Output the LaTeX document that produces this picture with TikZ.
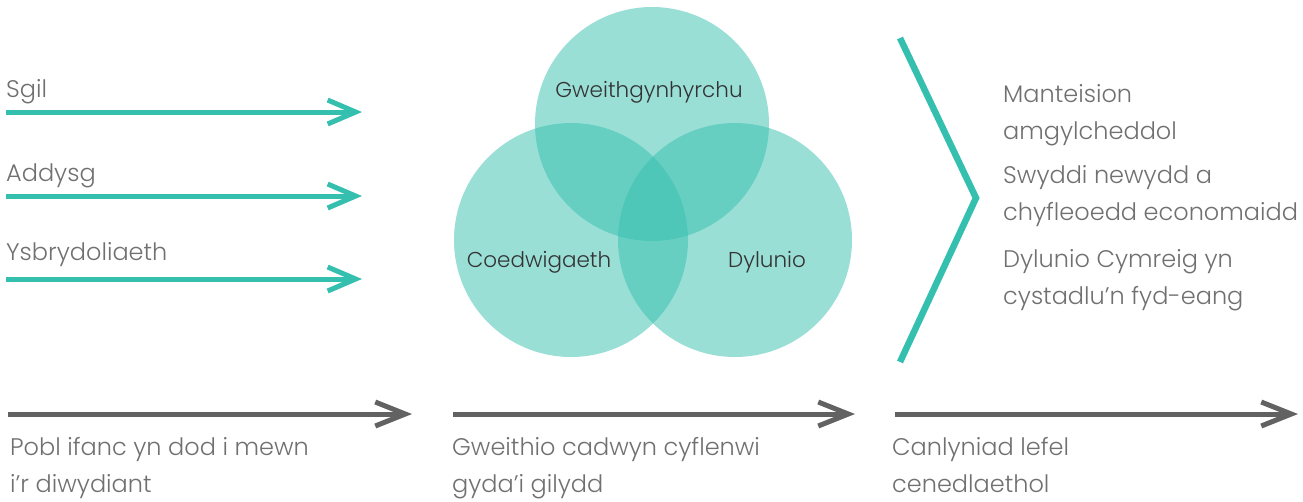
\documentclass[tikz,border=0pt]{standalone}
\usepackage{fontspec}
\setmainfont{Poppins Light}
\usetikzlibrary{arrows.meta}
\definecolor{tealc}{HTML}{35BFAE}
\definecolor{grayarrow}{HTML}{626262}
\definecolor{graytext}{HTML}{707070}
\definecolor{darktext}{HTML}{333333}
\begin{document}
\begin{tikzpicture}[x=1pt,y=-1pt,
  lbl/.style={anchor=base west,inner sep=0pt,text=graytext,font=\fontsize{24}{37}\selectfont},
  vlbl/.style={anchor=base,inner sep=0pt,text=darktext,font=\fontsize{21.5}{26}\selectfont},
  tarrow/.style={draw=tealc,line width=5pt,-{Straight Barb[length=28pt,width=24pt]}},
  garrow/.style={draw=grayarrow,line width=5pt,-{Straight Barb[length=30pt,width=24pt]}},
  vcirc/.style={circle,minimum size=234pt,inner sep=0pt,fill=tealc,fill opacity=0.5,draw=none}]
\useasboundingbox (0,0) rectangle (1303,501);
% Venn circles
\node[vcirc] (ctop) at (652,124) {};
\node[vcirc] (cleft) at (571,240) {};
\node[vcirc] (cright) at (735,240) {};
\node[vlbl] (lman) at (649,97) {Gweithgynhyrchu};
\node[vlbl] (lfor) at (539,267) {Coedwigaeth};
\node[vlbl] (ldes) at (767,267) {Dylunio};
% left teal arrows
\node[lbl] (sgil) at (6,97) {Sgil};
\node[lbl] (addysg) at (6,181) {Addysg};
\node[lbl] (ysbr) at (6,260) {Ysbrydoliaeth};
\coordinate (s1) at (6,112); \coordinate (e1) at (362,112);
\coordinate (s2) at (6,196); \coordinate (e2) at (362,196);
\coordinate (s3) at (6,279); \coordinate (e3) at (362,279);
\draw[tarrow] (s1) -- (e1);
\draw[tarrow] (s2) -- (e2);
\draw[tarrow] (s3) -- (e3);
% big chevron
\coordinate (ch1) at (900,38);
\coordinate (ch2) at (976,198);
\coordinate (ch3) at (900,362);
\draw[tealc,line width=6.5pt,line join=miter] (ch1) -- (ch2) -- (ch3);
% right texts
\node[lbl] (r1) at (1003,102) {Manteision};
\node[lbl] (r2) at (1003,139) {amgylcheddol};
\node[lbl] (r3) at (1003,183) {Swyddi newydd a};
\node[lbl] (r4) at (1003,220) {chyfleoedd economaidd};
\node[lbl] (r5) at (1003,267) {Dylunio Cymreig yn};
\node[lbl] (r6) at (1003,304) {cystadlu’n fyd-eang};
% bottom gray arrows
\coordinate (g1s) at (8,414); \coordinate (g1e) at (412,414);
\coordinate (g2s) at (453,414); \coordinate (g2e) at (855,414);
\coordinate (g3s) at (895,414); \coordinate (g3e) at (1298,414);
\draw[garrow] (g1s) -- (g1e);
\draw[garrow] (g2s) -- (g2e);
\draw[garrow] (g3s) -- (g3e);
\node[lbl] (b1a) at (10,455) {Pobl ifanc yn dod i mewn};
\node[lbl] (b1b) at (10,492) {i’r diwydiant};
\node[lbl] (b2a) at (452,455) {Gweithio cadwyn cyflenwi};
\node[lbl] (b2b) at (452,492) {gyda’i gilydd};
\node[lbl] (b3a) at (892,455) {Canlyniad lefel};
\node[lbl] (b3b) at (892,492) {cenedlaethol};
\end{tikzpicture}
\end{document}
